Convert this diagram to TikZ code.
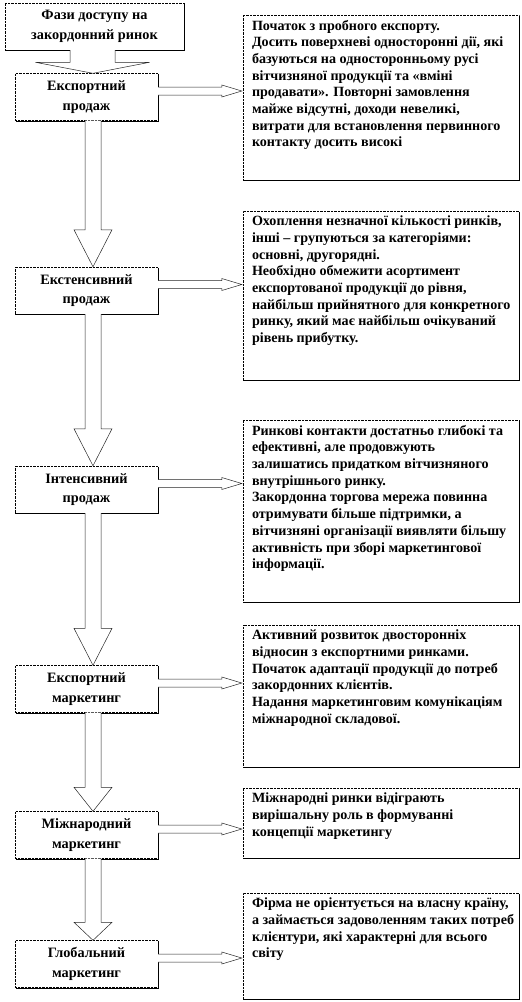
\documentclass[tikz,border=0pt]{standalone}
\usepackage{fontspec}
\setmainfont{Liberation Serif}
\usetikzlibrary{calc,shadows}

\tikzset{
    boxshadow/.style={drop shadow={shadow xshift=1pt,shadow yshift=-1pt,opacity=1,fill=black}},
    phasebox/.style={draw,densely dotted,fill=white,boxshadow,minimum width=143pt,minimum height=47pt,
        inner sep=0pt,align=center,font=\bfseries\fontsize{14.3}{19.5}\selectfont},
    notebox/.style={draw,densely dotted,fill=white,boxshadow,minimum width=276pt,inner sep=0pt},
    notetext/.style={anchor=north west,inner xsep=9pt,inner ysep=5pt,align=left,
        font=\bfseries\fontsize{14.1}{16.7}\selectfont},
    flowarrow/.style={draw=black!85,fill=white,line width=0.5pt}
}

\begin{document}
\begin{tikzpicture}[x=1pt,y=-1pt]
    \useasboundingbox (0,0) rectangle (522,1002);

    % phases
    \node[phasebox,minimum width=179pt] (title) at (94.5,26.5) {Фази доступу на\\закордонний ринок};
    \node[phasebox] (p1) at (86.5,97) {Експортний\\продаж};
    \node[phasebox] (p2) at (86.5,290.5) {Екстенсивний\\продаж};
    \node[phasebox] (p3) at (86.5,489.5) {Інтенсивний\\продаж};
    \node[phasebox] (p4) at (86.5,689) {Експортний\\маркетинг};
    \node[phasebox] (p5) at (86.5,835) {Міжнародний\\маркетинг};
    \node[phasebox] (p6) at (86.5,964) {Глобальний\\маркетинг};

    % descriptions
    \node[notebox,minimum height=165pt] (n1) at (381,97.5) {};
    \node[notetext] (t1) at (n1.north west) {Початок з пробного  експорту.\\
        Досить поверхневі  односторонні  дії,  які\\
        базуються на односторонньому русі\\
        вітчизняної  продукції  та «вміні\\
        продавати». Повторні замовлення\\
        майже відсутні,  доходи невеликі,\\
        витрати для встановлення первинного\\
        контакту досить високі};
    \node[notebox,minimum height=169pt] (n2) at (381,295.5) {};
    \node[notetext] (t2) at (n2.north west) {Охоплення  незначної кількості ринків,\\
        інші  – групуються за категоріями:\\
        основні,  другорядні.\\
        Необхідно  обмежити асортимент\\
        експортованої продукції  до рівня,\\
        найбільш прийнятного  для конкретного\\
        ринку,  який має найбільш  очікуваний\\
        рівень прибутку.};
    \node[notebox,minimum height=182pt] (n3) at (381,511) {};
    \node[notetext] (t3) at (n3.north west) {Ринкові  контакти достатньо глибокі та\\
        ефективні,  але продовжують\\
        залишатись придатком вітчизняного\\
        внутрішнього  ринку.\\
        Закордонна торгова мережа повинна\\
        отримувати більше підтримки,  а\\
        вітчизняні  організації  виявляти більшу\\
        активність при  зборі маркетингової\\
        інформації.};
    \node[notebox,minimum height=142pt] (n4) at (381,696) {};
    \node[notetext] (t4) at (n4.north west) {Активний  розвиток двосторонніх\\
        відносин  з експортними ринками.\\
        Початок адаптації продукції  до потреб\\
        закордонних  клієнтів.\\
        Надання маркетинговим комунікаціям\\
        міжнародної  складової.};
    \node[notebox,minimum height=70pt] (n5) at (381,823) {};
    \node[notetext] (t5) at (n5.north west) {Міжнародні  ринки  відіграють\\
        вирішальну  роль в формуванні\\
        концепції  маркетингу};
    \node[notebox,minimum height=106pt] (n6) at (381,946) {};
    \node[notetext] (t6) at (n6.north west) {Фірма не  орієнтується на власну країну,\\
        а займається задоволенням таких потреб\\
        клієнтури,  які характерні для всього\\
        світу};

    % title to first phase
    \filldraw[flowarrow] let \p1=(title.south), \p2=(p1.north) in
        (\x1-24.5pt,\y1) -- (\x1-24.5pt,\y2+11pt) -- (\x2-51pt,\y2+11pt) -- (\x2+6.5pt,\y2)
        -- (\x2+63pt,\y2+11pt) -- (\x1+20.5pt,\y2+11pt) -- (\x1+20.5pt,\y1);

    % phase to phase
    \filldraw[flowarrow] let \p1=(p1.south), \p2=(p2.north) in
        (\x1-1.5pt,\y1) -- (\x1-1.5pt,\y2+37pt) -- (\x1-12.5pt,\y2+37pt) -- (\x1+6.5pt,\y2)
        -- (\x1+25.5pt,\y2+37pt) -- (\x1+14.5pt,\y2+37pt) -- (\x1+14.5pt,\y1);
    \filldraw[flowarrow] let \p1=(p2.south), \p2=(p3.north) in
        (\x1-1.5pt,\y1) -- (\x1-1.5pt,\y2+37pt) -- (\x1-12.5pt,\y2+37pt) -- (\x1+6.5pt,\y2)
        -- (\x1+25.5pt,\y2+37pt) -- (\x1+14.5pt,\y2+37pt) -- (\x1+14.5pt,\y1);
    \filldraw[flowarrow] let \p1=(p3.south), \p2=(p4.north) in
        (\x1-1.5pt,\y1) -- (\x1-1.5pt,\y2+37pt) -- (\x1-12.5pt,\y2+37pt) -- (\x1+6.5pt,\y2)
        -- (\x1+25.5pt,\y2+37pt) -- (\x1+14.5pt,\y2+37pt) -- (\x1+14.5pt,\y1);
    \filldraw[flowarrow] let \p1=(p4.south), \p2=(p5.north) in
        (\x1-1.5pt,\y1) -- (\x1-1.5pt,\y2+24pt) -- (\x1-12.5pt,\y2+24pt) -- (\x1+6.5pt,\y2)
        -- (\x1+25.5pt,\y2+24pt) -- (\x1+14.5pt,\y2+24pt) -- (\x1+14.5pt,\y1);
    \filldraw[flowarrow] let \p1=(p5.south), \p2=(p6.north) in
        (\x1-1.5pt,\y1) -- (\x1-1.5pt,\y2+18pt) -- (\x1-12.5pt,\y2+18pt) -- (\x1+6.5pt,\y2)
        -- (\x1+25.5pt,\y2+18pt) -- (\x1+14.5pt,\y2+18pt) -- (\x1+14.5pt,\y1);

    % phase to description
    \filldraw[flowarrow] let \p1=(p1.east), \p2=(n1.west) in
        (\x1,\y1+2pt) -- (\x2-21pt,\y1+2pt) -- (\x2-21pt,\y1) -- (\x2-1pt,\y1+6pt)
        -- (\x2-21pt,\y1+12pt) -- (\x2-21pt,\y1+10pt) -- (\x1,\y1+10pt);
    \filldraw[flowarrow] let \p1=(p2.east), \p2=(n2.west) in
        (\x1,\y1+2pt) -- (\x2-21pt,\y1+2pt) -- (\x2-21pt,\y1) -- (\x2-1pt,\y1+6pt)
        -- (\x2-21pt,\y1+12pt) -- (\x2-21pt,\y1+10pt) -- (\x1,\y1+10pt);
    \filldraw[flowarrow] let \p1=(p3.east), \p2=(n3.west) in
        (\x1,\y1+2pt) -- (\x2-21pt,\y1+2pt) -- (\x2-21pt,\y1) -- (\x2-1pt,\y1+6pt)
        -- (\x2-21pt,\y1+12pt) -- (\x2-21pt,\y1+10pt) -- (\x1,\y1+10pt);
    \filldraw[flowarrow] let \p1=(p4.east), \p2=(n4.west) in
        (\x1,\y1+2pt) -- (\x2-21pt,\y1+2pt) -- (\x2-21pt,\y1) -- (\x2-1pt,\y1+6pt)
        -- (\x2-21pt,\y1+12pt) -- (\x2-21pt,\y1+10pt) -- (\x1,\y1+10pt);
    \filldraw[flowarrow] let \p1=(p5.east), \p2=(n5.west) in
        (\x1,\y1+2pt) -- (\x2-21pt,\y1+2pt) -- (\x2-21pt,\y1) -- (\x2-1pt,\y1+6pt)
        -- (\x2-21pt,\y1+12pt) -- (\x2-21pt,\y1+10pt) -- (\x1,\y1+10pt);
    \filldraw[flowarrow] let \p1=(p6.east), \p2=(n6.west) in
        (\x1,\y1+2pt) -- (\x2-21pt,\y1+2pt) -- (\x2-21pt,\y1) -- (\x2-1pt,\y1+6pt)
        -- (\x2-21pt,\y1+12pt) -- (\x2-21pt,\y1+10pt) -- (\x1,\y1+10pt);
\end{tikzpicture}
\end{document}
